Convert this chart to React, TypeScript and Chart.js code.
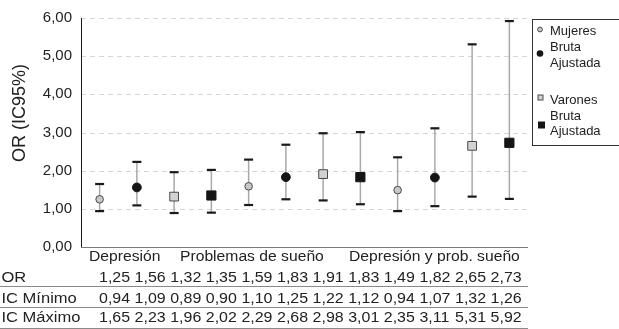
import React, { useEffect, useRef } from 'react';
import { Chart, registerables } from 'chart.js';

Chart.register(...registerables);

// ---------- data ----------
const columns = ['c1', 'c2', 'c3', 'c4', 'c5', 'c6', 'c7', 'c8', 'c9', 'c10', 'c11', 'c12'];
const groupLabels = ['Depresión', 'Problemas de sueño', 'Depresión y prob. sueño'];
const seriesNames = ['Mujeres Bruta', 'Mujeres Ajustada', 'Varones Bruta', 'Varones Ajustada'];
const seriesOfColumn = [0, 1, 2, 3, 0, 1, 2, 3, 0, 1, 2, 3];
const orValues = [1.25, 1.56, 1.32, 1.35, 1.59, 1.83, 1.91, 1.83, 1.49, 1.82, 2.65, 2.73];
const icMin = [0.94, 1.09, 0.89, 0.9, 1.1, 1.25, 1.22, 1.12, 0.94, 1.07, 1.32, 1.26];
const icMax = [1.65, 2.23, 1.96, 2.02, 2.29, 2.68, 2.98, 3.01, 2.35, 3.11, 5.31, 5.92];
const tableRowLabels = ['OR', 'IC Mínimo', 'IC Máximo'];
const yTitle = 'OR (IC95%)';
const yMin = 0;
const yMax = 6;
const yStep = 1;

const FONT = '"Liberation Sans", Arial, Helvetica, sans-serif';
const TEXT = '#222222';

const fmt = (v: number) => v.toFixed(2).replace('.', ',');

const seriesStyles = [
  { pointStyle: 'circle', radius: 3.8, bg: '#c8c8c8', border: '#4a4a4a', bw: 1 },
  { pointStyle: 'circle', radius: 4.4, bg: '#151515', border: '#151515', bw: 1 },
  { pointStyle: 'rect', radius: 6.2, bg: '#d2d2d2', border: '#4a4a4a', bw: 1 },
  { pointStyle: 'rect', radius: 6.5, bg: '#151515', border: '#151515', bw: 1 },
];

function stretchText(ctx: CanvasRenderingContext2D, text: string, x: number, y: number, sx: number) {
  ctx.save();
  ctx.translate(x, y);
  ctx.scale(sx, 1);
  ctx.fillText(text, 0, 0);
  ctx.restore();
}

const errorBarPlugin = {
  id: 'errorBars',
  beforeDatasetsDraw(chart: any) {
    const { ctx, chartArea } = chart;
    const x = chart.scales.x;
    const y = chart.scales.y;
    ctx.save();
    // dashed gridlines
    ctx.strokeStyle = '#d6d6d6';
    ctx.lineWidth = 1;
    ctx.setLineDash([5, 4]);
    y.ticks.forEach((t: any) => {
      if (t.value === yMin) return;
      const yy = Math.round(y.getPixelForValue(t.value)) + 0.5;
      ctx.beginPath();
      ctx.moveTo(chartArea.left, yy);
      ctx.lineTo(chartArea.right, yy);
      ctx.stroke();
    });
    ctx.setLineDash([]);
    columns.forEach((_, i) => {
      const px = x.getPixelForValue(i);
      const yLo = y.getPixelForValue(icMin[i]);
      const yHi = y.getPixelForValue(icMax[i]);
      ctx.strokeStyle = '#a8a8a8';
      ctx.lineWidth = 1.5;
      ctx.beginPath();
      ctx.moveTo(px, yLo);
      ctx.lineTo(px, yHi);
      ctx.stroke();
      ctx.strokeStyle = '#1a1a1a';
      ctx.lineWidth = 2.2;
      [yLo, yHi].forEach((yy) => {
        ctx.beginPath();
        ctx.moveTo(px - 4.5, yy);
        ctx.lineTo(px + 4.5, yy);
        ctx.stroke();
      });
    });
    ctx.restore();
  },
};

const decorPlugin = {
  id: 'decor',
  afterDraw(chart: any) {
    const { ctx, chartArea } = chart;
    const { left, right, top, bottom } = chartArea;
    ctx.save();

    // axes
    ctx.lineWidth = 1;
    ctx.strokeStyle = '#1a1a1a';
    ctx.beginPath();
    ctx.moveTo(left + 0.5, top);
    ctx.lineTo(left + 0.5, bottom);
    ctx.stroke();
    ctx.strokeStyle = '#7a7a7a';
    ctx.beginPath();
    ctx.moveTo(left, bottom + 0.5);
    ctx.lineTo(right, bottom + 0.5);
    ctx.stroke();

    // y title
    ctx.fillStyle = TEXT;
    ctx.font = `18px ${FONT}`;
    ctx.textAlign = 'center';
    ctx.textBaseline = 'middle';
    ctx.save();
    ctx.translate(20, 113);
    ctx.rotate(-Math.PI / 2);
    ctx.fillText(yTitle, 0, 0);
    ctx.restore();

    // category labels
    ctx.textAlign = 'left';
    ctx.textBaseline = 'alphabetic';
    ctx.font = `14px ${FONT}`;
    const groupX = [left + 8, left + 99, left + 268];
    groupLabels.forEach((g, i) => stretchText(ctx, g, groupX[i], bottom + 13.5, 1.12));

    // table
    const rowBase = [282, 302.5, 321.5];
    const rows = [orValues, icMin, icMax];
    rows.forEach((row, r) => {
      stretchText(ctx, tableRowLabels[r], 1.5, rowBase[r], 1.18);
      row.forEach((v, i) => {
        stretchText(ctx, fmt(v), left + 18 + i * 35.6, rowBase[r], 1.14);
      });
    });
    ctx.strokeStyle = '#8a8a8a';
    ctx.lineWidth = 1;
    [286.5, 307.5, 328.5].forEach((yy) => {
      ctx.beginPath();
      ctx.moveTo(0, yy);
      ctx.lineTo(right, yy);
      ctx.stroke();
    });

    // legend
    ctx.strokeStyle = '#333333';
    ctx.lineWidth = 1;
    ctx.strokeRect(532.5, 19.5, 100, 126);
    ctx.font = `13px ${FONT}`;
    ctx.fillStyle = TEXT;
    const lx = 550;
    ['Mujeres', 'Bruta', 'Ajustada'].forEach((t, i) => ctx.fillText(t, lx, [35, 51, 67][i]));
    ['Varones', 'Bruta', 'Ajustada'].forEach((t, i) => ctx.fillText(t, lx, [104, 120, 135][i]));
    // legend markers
    ctx.fillStyle = seriesStyles[0].bg;
    ctx.strokeStyle = seriesStyles[0].border;
    ctx.beginPath();
    ctx.arc(540, 29.5, 2.4, 0, Math.PI * 2);
    ctx.fill();
    ctx.stroke();
    ctx.fillStyle = seriesStyles[1].bg;
    ctx.beginPath();
    ctx.arc(540, 53.5, 3.3, 0, Math.PI * 2);
    ctx.fill();
    ctx.fillStyle = seriesStyles[2].bg;
    ctx.strokeStyle = seriesStyles[2].border;
    ctx.fillRect(538, 95, 5, 5);
    ctx.strokeRect(538, 95, 5, 5);
    ctx.fillStyle = seriesStyles[3].bg;
    ctx.fillRect(538, 121.5, 7, 7);

    ctx.restore();
  },
};

export default function App() {
  const canvasRef = useRef<HTMLCanvasElement | null>(null);

  useEffect(() => {
    if (!canvasRef.current) return;
    const datasets = seriesNames.map((name, k) => {
      const s = seriesStyles[k];
      return {
        label: name,
        data: orValues.map((v, i) => (seriesOfColumn[i] === k ? v : null)),
        showLine: false,
        pointStyle: s.pointStyle,
        pointRadius: s.radius,
        pointBackgroundColor: s.bg,
        pointBorderColor: s.border,
        pointBorderWidth: s.bw,
        pointHoverRadius: s.radius,
      };
    });
    const chart = new Chart(canvasRef.current, {
      type: 'line',
      data: { labels: columns, datasets: datasets as any },
      options: {
        responsive: false,
        animation: false,
        events: [],
        layout: { padding: { left: 0, right: 91, top: 15, bottom: 0 } },
        plugins: { legend: { display: false }, tooltip: { enabled: false } },
        scales: {
          x: {
            type: 'category',
            offset: true,
            grid: { display: false },
            border: { display: false },
            ticks: { display: false },
            afterFit: (s: any) => {
              s.height = 82;
            },
          },
          y: {
            min: yMin,
            max: yMax,
            grid: { display: false, drawTicks: false },
            border: { display: false },
            ticks: {
              stepSize: yStep,
              padding: 9,
              color: TEXT,
              font: { size: 15, family: FONT },
              callback: (v: any) => fmt(Number(v)),
            },
            afterFit: (s: any) => {
              s.width = 81;
            },
          },
        },
      },
      plugins: [errorBarPlugin, decorPlugin],
    });
    return () => chart.destroy();
  }, []);

  return (
    <div style={{ position: 'fixed', left: 0, top: 0, width: 619, height: 329, background: '#fff' }}>
      <canvas ref={canvasRef} width={619} height={329} style={{ display: 'block' }} />
    </div>
  );
}
